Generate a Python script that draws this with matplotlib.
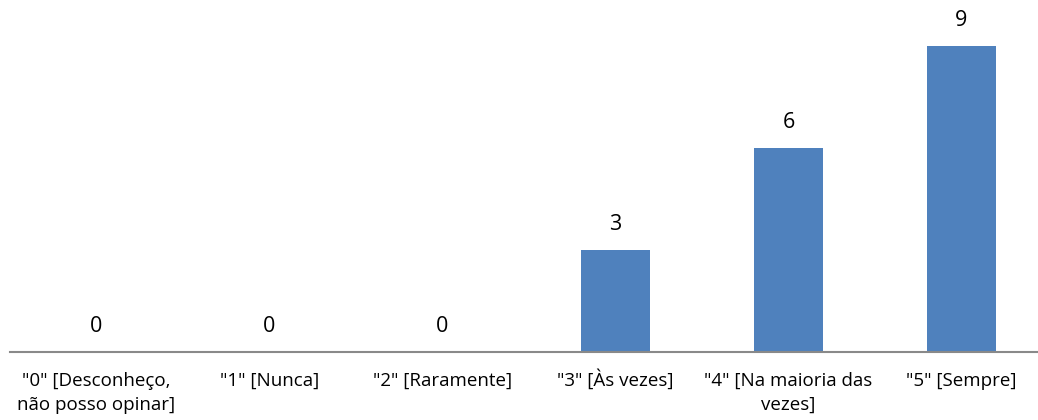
import matplotlib
matplotlib.use('Agg')
import matplotlib.pyplot as plt

categories = ['"0" [Desconheço,\nnão posso opinar]', '"1" [Nunca]', '"2" [Raramente]',
              '"3" [Às vezes]', '"4" [Na maioria das\nvezes]', '"5" [Sempre]']
values = [0, 0, 0, 3, 6, 9]

plt.rcParams['font.family'] = ['Open Sans', 'DejaVu Sans']

fig = plt.figure(figsize=(10.38, 4.2), dpi=100)
ax = fig.add_axes([10/1038, 68/420, 1028/1038, 340/420])

x = list(range(len(values)))
bars = ax.bar(x, values, width=0.40, color='#4F81BD')

for xi, v in zip(x, values):
    ax.annotate(str(v), (xi, v), xytext=(0, 11), textcoords='offset points',
                ha='center', va='bottom', fontsize=15.5, color='black')

# category labels drawn line by line on baselines, so "Às" lines up with the rest
for xi, lab in zip(x, categories):
    for k, line in enumerate(lab.split('\n')):
        ax.annotate(line, (xi, 0), xycoords=('data', 'axes fraction'),
                    xytext=(0, -24.5 - 17.3 * k), textcoords='offset points',
                    ha='center', va='baseline', fontsize=13.5,
                    annotation_clip=False)

ax.set_xlim(-0.5, 1028/173 - 0.5)
ax.set_ylim(0, 10)
ax.set_xticks([])
ax.set_yticks([])
for s in ['top', 'right', 'left']:
    ax.spines[s].set_visible(False)
ax.spines['bottom'].set_color('#898989')
ax.spines['bottom'].set_linewidth(1.5)

fig.savefig('out.png', dpi=100)
